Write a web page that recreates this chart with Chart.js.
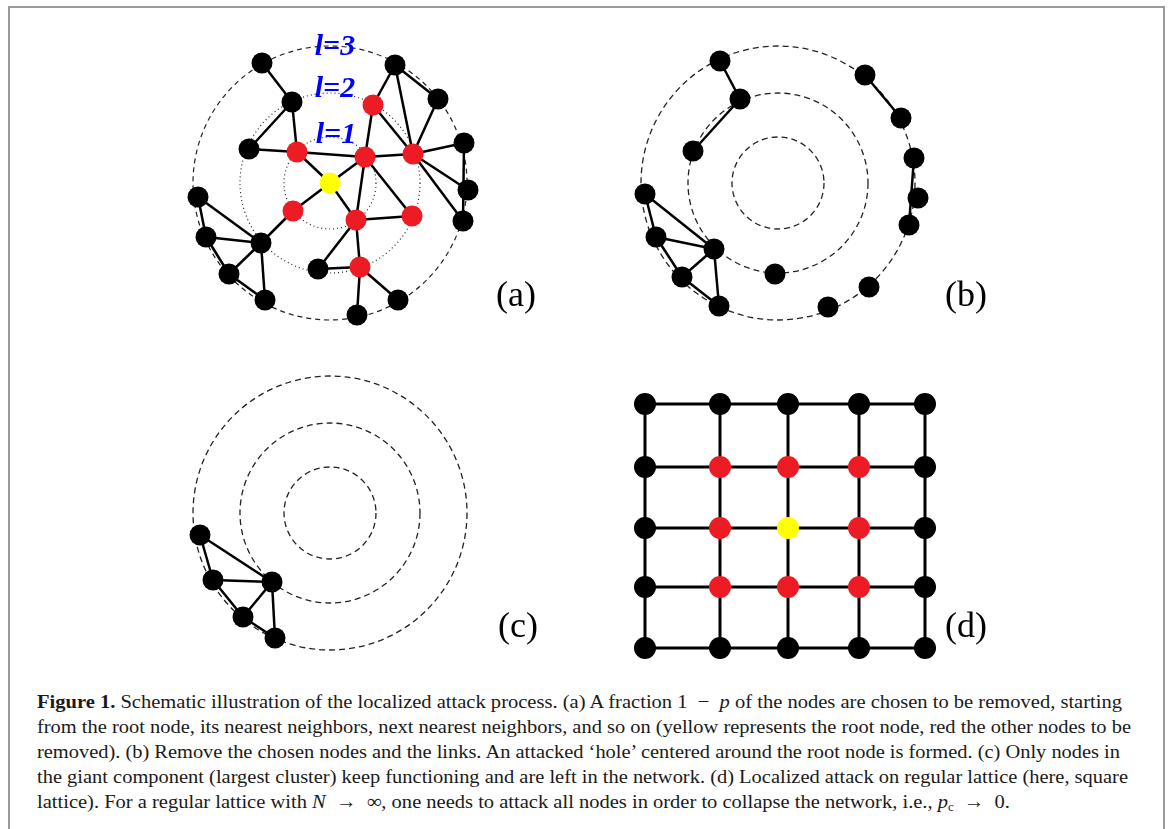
<!DOCTYPE html>
<html><head><meta charset="utf-8">
<script src="https://cdn.jsdelivr.net/npm/chart.js@4/dist/chart.umd.min.js"></script>
<style>
html,body{margin:0;padding:0;background:#fff;width:1168px;height:829px;overflow:hidden;position:relative;}
#frame{position:absolute;left:8px;top:6px;width:1153px;height:840px;border:2px solid #9a9a9a;}
canvas{position:absolute;}
.plab{position:absolute;font-family:"Liberation Serif","Times New Roman",serif;font-size:36px;line-height:1;transform:translate(-50%,-50%);white-space:nowrap;color:#000}
.lev{position:absolute;font-family:"Liberation Serif","Times New Roman",serif;font-weight:bold;font-style:italic;font-size:30px;line-height:1;color:#0000ff;transform:translate(-50%,-50%);white-space:nowrap}
.cap{position:absolute;left:37px;font-family:"Liberation Serif","Times New Roman",serif;font-size:19.5px;line-height:1;white-space:nowrap;transform-origin:0 0;color:#1a1a1a}
.cap sub{font-size:12px;vertical-align:-3px;line-height:0}
</style></head>
<body>
<div id="frame"></div>
<canvas id="ca" width="330" height="320" style="left:170px;top:20px"></canvas>
<canvas id="cb" width="330" height="320" style="left:620px;top:20px"></canvas>
<canvas id="cc" width="330" height="320" style="left:170px;top:350px"></canvas>
<canvas id="cd" width="330" height="300" style="left:620px;top:380px"></canvas>

<div class="lev" style="left:335px;top:45px">l=3</div>
<div class="lev" style="left:335px;top:87px">l=2</div>
<div class="lev" style="left:336px;top:133px">l=1</div>

<div class="plab" style="left:516px;top:294px">(a)</div>
<div class="plab" style="left:966px;top:294px">(b)</div>
<div class="plab" style="left:518px;top:625px">(c)</div>
<div class="plab" style="left:966px;top:625px">(d)</div>

<div class="cap" data-w="1085" style="top:692px"><b>Figure 1.</b> Schematic illustration of the localized attack process. (a) A fraction 1 &nbsp;− &nbsp;<i>p</i> of the nodes are chosen to be removed, starting</div>
<div class="cap" data-w="1094" style="top:717px">from the root node, its nearest neighbors, next nearest neighbors, and so on (yellow represents the root node, red the other nodes to be</div>
<div class="cap" data-w="1083" style="top:742px">removed). (b) Remove the chosen nodes and the links. An attacked ‘hole’ centered around the root node is formed. (c) Only nodes in</div>
<div class="cap" data-w="1091" style="top:767px">the giant component (largest cluster) keep functioning and are left in the network. (d) Localized attack on regular lattice (here, square</div>
<div class="cap" data-w="973" style="top:792px">lattice). For a regular lattice with <i>N</i> &nbsp;→ &nbsp;∞, one needs to attack all nodes in order to collapse the network, i.e., <i>p</i><sub>c</sub> &nbsp;→ &nbsp;0.</div>

<script>
// ---------- DATA ----------
// node kinds: K = remaining node, R = node to be removed, Y = root node
const ringRadius = [46, 90, 137];

// panel (a): full network around the root node
const aNodeX = [-68,-38,-81,-33, 43, 65,108, 35, 83,134,138,133,  0,-37, 26, 82,-132,-124,-69,-101,-65,-12, 30, 68, 27];
const aNodeY = [-120,-81,-34,-31,-78,-118,-84,-26,-29,-40,  7, 38,  0, 28, 37, 33,  14,  54, 60,  91,117, 86, 84,117,132];
const aNodeKind = ['K','K','K','R','R','K','K','R','R','K','K','K','Y','R','R','R','K','K','K','K','K','K','R','K','K'];
const aEdges = [[0,1],[1,2],[1,3],[2,3],[3,7],[3,12],[12,7],[12,14],[7,4],[7,8],[7,14],[7,15],
  [4,5],[4,8],[5,8],[5,6],[6,8],[8,9],[8,10],[8,11],[9,11],[14,15],[14,21],[14,22],[21,22],
  [22,23],[22,24],[13,12],[13,18],[18,16],[18,17],[18,19],[18,20],[16,17],[17,19],[19,20]];

// panel (b): after removing the chosen nodes and links
const bNodeX = [-58,-38,-85, 87,123,136,140,131,-133,-122,-64,-96,-59, -3, 50, 91];
const bNodeY = [-122,-84,-32,-108,-65,-25, 15, 42,  11,  54, 66, 94,123, 91,124,104];
const bEdges = [[0,1],[1,2],[3,4],[5,7],[8,9],[8,10],[9,10],[9,11],[11,10],[11,12],[10,12]];

// panel (c): giant component only
const cNodeX = [-130,-117,-58,-87,-55];
const cNodeY = [  22,  67, 69,104,125];
const cEdges = [[0,1],[0,2],[1,2],[1,3],[3,2],[3,4],[2,4]];

// panel (d): square lattice
const latticeX = [0, 75, 143, 214, 280];
const latticeY = [0, 63, 124, 183, 244];
const latticeKind = ['KKKKK','KRRRK','KRYRK','KRRRK','KKKKK'];

// ---------- DRAWING ----------
const palette = {K:'#000000', R:'#ed1c24', Y:'#ffff00'};

const ringPlugin = {
  id: 'rings',
  beforeDatasetsDraw(chart, args, opts) {
    if (!opts || !opts.radii) return;
    const xs = chart.scales.x, ys = chart.scales.y, ctx = chart.ctx;
    const cx = xs.getPixelForValue(0), cy = ys.getPixelForValue(0);
    ctx.save();
    opts.radii.forEach((r, i) => {
      const rp = Math.abs(xs.getPixelForValue(r) - cx);
      ctx.beginPath();
      ctx.setLineDash(opts.dashes[i]);
      ctx.lineWidth = opts.widths[i];
      ctx.strokeStyle = '#222';
      ctx.arc(cx, cy, rp, 0, Math.PI * 2);
      ctx.stroke();
    });
    ctx.restore();
  }
};

function nodeDataset(xs, ys, kinds, radius) {
  return {
    data: xs.map((x, i) => ({x: x, y: ys[i]})),
    showLine: false,
    pointRadius: radius,
    pointHoverRadius: radius,
    pointBackgroundColor: kinds.map(k => palette[k]),
    pointBorderWidth: 0,
    order: 0,
    clip: false
  };
}
function edgeDataset(p, q, w) {
  return {
    data: [p, q],
    showLine: true,
    borderColor: '#000',
    borderWidth: w,
    pointRadius: 0,
    pointHoverRadius: 0,
    order: 1,
    clip: false
  };
}
function makeChart(id, datasets, xr, yr, rings) {
  return new Chart(document.getElementById(id), {
    type: 'scatter',
    data: {datasets: datasets},
    options: {
      responsive: false,
      animation: false,
      devicePixelRatio: 1,
      events: [],
      layout: {padding: 0, autoPadding: false},
      plugins: {legend: {display: false}, tooltip: {enabled: false}, rings: rings || {}},
      scales: {
        x: {type: 'linear', min: xr[0], max: xr[1], display: false},
        y: {type: 'linear', min: yr[0], max: yr[1], reverse: true, display: false}
      }
    },
    plugins: [ringPlugin]
  });
}
function networkDatasets(nx, ny, kinds, edges) {
  const ds = [nodeDataset(nx, ny, kinds, 10.5)];
  edges.forEach(([i, j]) => ds.push(edgeDataset({x: nx[i], y: ny[i]}, {x: nx[j], y: ny[j]}, 2.5)));
  return ds;
}

makeChart('ca', networkDatasets(aNodeX, aNodeY, aNodeKind, aEdges), [-160, 170], [-163, 157],
  {radii: ringRadius, dashes: [[1, 3], [1, 3], [5, 4]], widths: [1.2, 1.2, 1.2]});
makeChart('cb', networkDatasets(bNodeX, bNodeY, bNodeX.map(() => 'K'), bEdges), [-158, 172], [-163, 157],
  {radii: ringRadius, dashes: [[6, 4], [6, 4], [6, 4]], widths: [1.3, 1.3, 1.3]});
makeChart('cc', networkDatasets(cNodeX, cNodeY, cNodeX.map(() => 'K'), cEdges), [-160, 170], [-163, 157],
  {radii: ringRadius, dashes: [[6, 4], [6, 4], [6, 4]], widths: [1.3, 1.3, 1.3]});

// lattice
(function () {
  const lx = [], ly = [], lk = [];
  latticeY.forEach((y, r) => latticeX.forEach((x, c) => { lx.push(x); ly.push(y); lk.push(latticeKind[r][c]); }));
  const ds = [nodeDataset(lx, ly, lk, 11)];
  latticeY.forEach(y => ds.push(edgeDataset({x: latticeX[0], y: y}, {x: latticeX[latticeX.length - 1], y: y}, 3)));
  latticeX.forEach(x => ds.push(edgeDataset({x: x, y: latticeY[0]}, {x: x, y: latticeY[latticeY.length - 1]}, 3)));
  makeChart('cd', ds, [-25, 305], [-24, 276]);
})();

// fit caption lines to their measured widths
document.querySelectorAll('.cap').forEach(el => {
  const target = parseFloat(el.dataset.w);
  const w = el.getBoundingClientRect().width;
  if (w > 0) el.style.transform = 'scaleX(' + (target / w) + ')';
});
</script>
</body></html>
